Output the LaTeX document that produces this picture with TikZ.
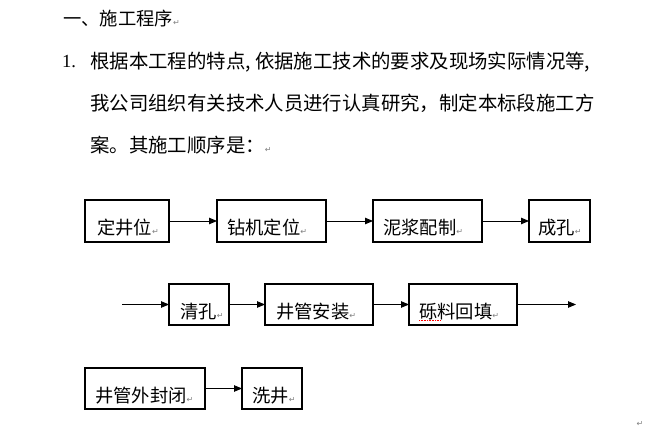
\documentclass[tikz,border=0pt]{standalone}
\usepackage{fontspec}
\setmainfont{Liberation Serif}
\newfontfamily\cjk{Noto Sans CJK SC}
\newfontfamily\dv{DejaVu Sans}
\usetikzlibrary{arrows.meta}
\definecolor{retgray}{HTML}{808080}
\newcommand\retm{{\dv\fontsize{8}{8}\selectfont\color{retgray}↵}}
\newcommand\hc{\makebox[0.5em][l]{,}}
\tikzset{
  flowbox/.style={draw=black, line width=1.2pt, rectangle, inner sep=0pt, outer sep=0pt},
  boxtext/.style={anchor=west, inner sep=0pt, font=\cjk\fontsize{18.3}{20}\selectfont},
  bodytext/.style={anchor=west, inner sep=0pt, font=\cjk\fontsize{19.4}{21}\selectfont},
  flowarrow/.style={line width=0.9pt, -{Triangle[length=8pt,width=6.5pt]}}
}
\begin{document}
\begin{tikzpicture}[x=1pt,y=-1pt]
\useasboundingbox[fill=white] (0,0) rectangle (659,430);

% heading and paragraph
\node[anchor=west, inner sep=0pt, font=\cjk\fontsize{18.3}{20}\selectfont] (head) at (63,19) {一、施工程序\retm};
\node[anchor=west, inner sep=0pt, font=\fontsize{18.5}{20}\selectfont] (num) at (62,62) {1.};
\node[bodytext] (l1) at (90,62) {根据本工程的特点\hc 依据施工技术的要求及现场实际情况等\hc};
\node[bodytext] (l2) at (90,103) {我公司组织有关技术人员进行认真研究，制定本标段施工方};
\node[bodytext] (l3) at (90,145) {案。其施工顺序是：\retm};

% row 1
\node[flowbox, minimum width=84pt, minimum height=42pt] (b1) at (127,221) {};
\node[flowbox, minimum width=109pt, minimum height=42pt] (b2) at (271.5,221) {};
\node[flowbox, minimum width=109pt, minimum height=42pt] (b3) at (427.5,221) {};
\node[flowbox, minimum width=61pt, minimum height=42pt] (b4) at (559.5,221) {};
\node[boxtext] (t1) at ([shift={(12,7)}]b1.west) {定井位\retm};
\node[boxtext] (t2) at ([shift={(10,7)}]b2.west) {钻机定位\retm};
\node[boxtext] (t3) at ([shift={(10,7)}]b3.west) {泥浆配制\retm};
\node[boxtext] (t4) at ([shift={(9,7)}]b4.west) {成孔\retm};
\draw[flowarrow] (b1.east) -- (b2.west);
\draw[flowarrow] (b2.east) -- (b3.west);
\draw[flowarrow] (b3.east) -- (b4.west);

% row 2
\node[flowbox, minimum width=60pt, minimum height=41pt] (b5) at (199,304.5) {};
\node[flowbox, minimum width=108pt, minimum height=41pt] (b6) at (319,304.5) {};
\node[flowbox, minimum width=108pt, minimum height=41pt] (b7) at (463,304.5) {};
\node[boxtext] (t5) at ([shift={(11,7)}]b5.west) {清孔\retm};
\node[boxtext] (t6) at ([shift={(11,7)}]b6.west) {井管安装\retm};
\node[boxtext] (t7) at ([shift={(10,7)}]b7.west) {砾料回填\retm};
\draw[red, densely dotted, line width=0.6pt] ([shift={(0,8.5)}]t7.west) -- ++(22,0);
\coordinate (in2) at (122,304.5);
\coordinate (out2) at (576,304.5);
\draw[flowarrow] (in2) -- (b5.west);
\draw[flowarrow] (b5.east) -- (b6.west);
\draw[flowarrow] (b6.east) -- (b7.west);
\draw[flowarrow] (b7.east) -- (out2);

% row 3
\node[flowbox, minimum width=120pt, minimum height=41pt] (b8) at (145,388.5) {};
\node[flowbox, minimum width=60pt, minimum height=41pt] (b9) at (272,388.5) {};
\node[boxtext] (t8) at ([shift={(10,7)}]b8.west) {井管外封闭\retm};
\node[boxtext] (t9) at ([shift={(10,7)}]b9.west) {洗井\retm};
\draw[flowarrow] (b8.east) -- (b9.west);

\node[inner sep=0pt] (endmark) at (640,424) {\retm};
\end{tikzpicture}
\end{document}
